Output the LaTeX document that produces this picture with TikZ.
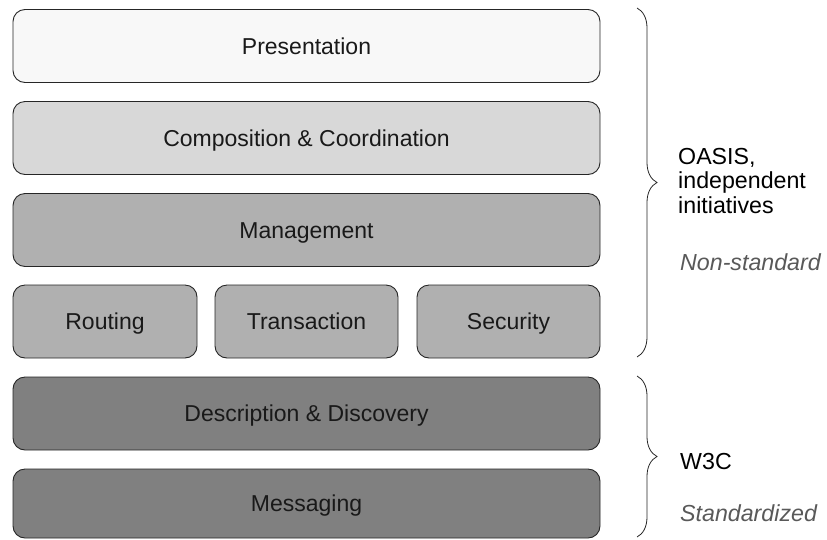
\documentclass[tikz,border=0pt]{standalone}
\usepackage{fontspec}
\setmainfont{Liberation Sans}
\usetikzlibrary{decorations.pathreplacing}
\definecolor{fPres}{HTML}{F8F8F8}
\definecolor{fComp}{HTML}{D8D8D8}
\definecolor{fMgmt}{HTML}{B0B0B0}
\definecolor{fLow}{HTML}{808080}
\definecolor{edge}{HTML}{262626}
\definecolor{note}{HTML}{595959}
\begin{document}
\begin{tikzpicture}[x=1pt,y=-1pt,
  layer/.style={draw=edge, line width=0.9pt, rounded corners=12pt, inner sep=0pt,
    minimum height=73pt, text height=19.6pt, text depth=3pt,
    font=\fontsize{23}{26}\selectfont, text=black!90},
  bracestyle/.style={draw=edge, line width=0.8pt, decorate, decoration={brace, amplitude=20pt}},
  lbl/.style={anchor=west, inner sep=0pt, font=\fontsize{23.2}{24.5}\selectfont, align=left},
  lblit/.style={lbl, font=\fontsize{23.2}{24.5}\selectfont\itshape, text=note}]
\useasboundingbox (0,0) rectangle (827,539);
\node[layer, fill=fPres, minimum width=587pt] (pres) at (306.5,46) {Presentation};
\node[layer, fill=fComp, minimum width=587pt] (comp) at (306.5,138) {Composition \& Coordination};
\node[layer, fill=fMgmt, minimum width=587pt] (mgmt) at (306.5,230) {Management};
\node[layer, fill=fMgmt, minimum width=184pt] (rout) at (105,321.5) {Routing};
\node[layer, fill=fMgmt, minimum width=183pt] (trans) at (306.5,321.5) {Transaction};
\node[layer, fill=fMgmt, minimum width=183pt] (sec) at (508.5,321.5) {Security};
\node[layer, fill=fLow, minimum width=587pt] (desc) at (306.5,413.5) {Description \& Discovery};
\node[layer, fill=fLow, minimum width=587pt, minimum height=69pt] (msg) at (306.5,503.5) {Messaging};
\coordinate (b1t) at (637,8);
\coordinate (b1b) at (637,357);
\coordinate (b2t) at (637,376);
\coordinate (b2b) at (637,537);
\draw[bracestyle] (b1t) -- (b1b);
\draw[bracestyle] (b2t) -- (b2b);
\node[lbl] (oasis) at (678,181) {OASIS,\\independent\\initiatives};
\node[lblit] (nonstd) at (680,262) {Non-standard};
\node[lbl] (w3c) at (680,462) {W3C};
\node[lblit] (std) at (680,513) {Standardized};
\end{tikzpicture}
\end{document}
